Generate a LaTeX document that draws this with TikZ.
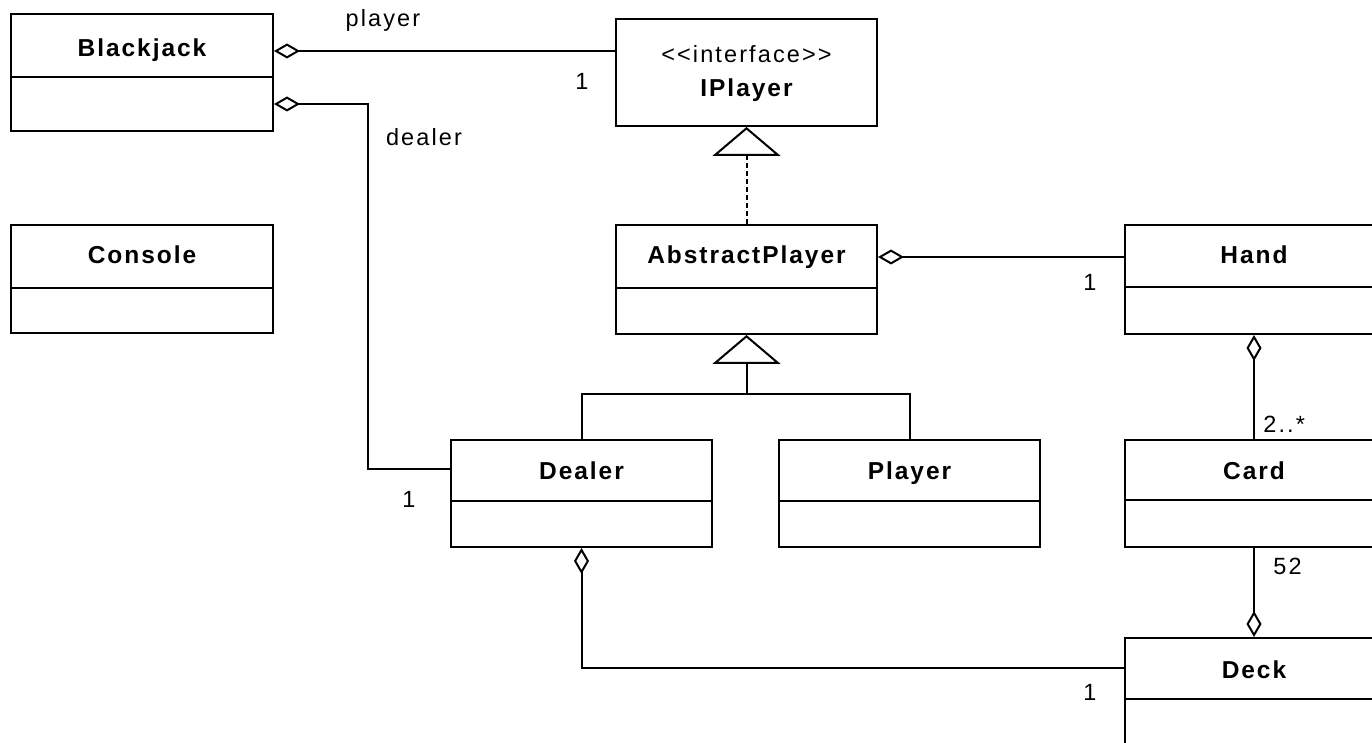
\documentclass[tikz,border=0pt]{standalone}
\usepackage{fontspec}
\setmainfont{Liberation Sans}[LetterSpace=9, Ligatures=TeXOff]
\newfontfamily\titlefont{Liberation Sans}[LetterSpace=8, Ligatures=TeXOff]
\usetikzlibrary{arrows.meta,fit}
\tikzset{
  umlline/.style={line width=1pt, draw=black},
  classbox/.style={draw, line width=1pt, inner sep=0pt},
  ctitle/.style={font=\titlefont\fontsize{12.25pt}{14pt}\selectfont\bfseries, anchor=base, inner sep=0pt},
  lbl/.style={font=\fontsize{11.75pt}{14pt}\selectfont, anchor=base, inner sep=0pt},
  aggS/.style={umlline, {Diamond[open, length=13pt, width=7.5pt]}-},
  aggE/.style={umlline, -{Diamond[open, length=13pt, width=7.5pt]}},
  gen/.style={umlline, -{Triangle[open, length=14.5pt, width=34pt]}},
  real/.style={umlline, dash pattern=on 2.5pt off 1.5pt, -{Triangle[open, length=14.5pt, width=34pt]}},
}
\newcommand\umlclass[8]{%
  \node[classbox, fit={(#2,#3) (#4,#5)}] (#1) {};
  \draw[umlline] (#1.west |- 0,#6) -- (#1.east |- 0,#6);
  \node[ctitle] (#1-name) at ({(#2+#4)/2},#7) {#8};
}
\begin{document}
\begin{tikzpicture}[x=0.5pt,y=-0.5pt]
\useasboundingbox (0,0) rectangle (1372,743);
\clip (0,0) rectangle (1372,743);

\umlclass{bj}{11}{14}{273}{131}{77}{57}{Blackjack}
\umlclass{co}{11}{225}{273}{333}{288}{264}{Console}
\umlclass{ap}{616}{225}{877}{334}{288}{264}{AbstractPlayer}
\umlclass{hd}{1125}{225}{1383}{334}{287}{264}{Hand}
\umlclass{dl}{451}{440}{712}{547}{501}{480}{Dealer}
\umlclass{pl}{779}{440}{1040}{547}{501}{480}{Player}
\umlclass{cd}{1125}{440}{1383}{547}{500}{480}{Card}
\umlclass{dk}{1125}{638}{1383}{760}{699}{678}{Deck}

\node[classbox, fit={(616,19) (877,126)}] (ip) {};
\node[lbl] (ip-st) at (746.5,63) {<<interface>>};
\node[ctitle] (ip-name) at (746.5,97) {IPlayer};

% Blackjack -> IPlayer (player)
\draw[aggS] (bj.east |- 0,51) -- (ip.west |- 0,51);
% Blackjack -> Dealer (dealer)
\draw[aggS] (bj.east |- 0,104) -| (368,469) -- (dl.west |- 0,469);
% realization
\draw[real] (ap.north) -- (ip.south);
% generalization
\coordinate (gj) at (746.5,394);
\draw[umlline] (dl.north) |- (gj) -| (pl.north);
\draw[gen] (gj) -- (ap.south);
% AbstractPlayer -> Hand
\draw[aggS] (ap.east |- 0,257) -- (hd.west |- 0,257);
% Hand -> Card
\draw[aggS] (hd.south) -- (cd.north);
% Card -> Deck
\draw[aggE] (cd.south) -- (dk.north);
% Dealer -> Deck
\draw[aggS] (dl.south) |- (dk.west |- 0,668);

% labels
\node[lbl] (l-player) at (383,27) {player};
\node[lbl] (l-one1) at (582,90) {1};
\node[lbl] (l-dealer) at (424,146) {dealer};
\node[lbl] (l-one2) at (409,508) {1};
\node[lbl] (l-one3) at (1090,291) {1};
\node[lbl, anchor=base west] (l-many) at (1263,433) {2..*};
\node[lbl, anchor=base west] (l-52) at (1273,574) {52};
\node[lbl] (l-one4) at (1090,700) {1};
\end{tikzpicture}
\end{document}
